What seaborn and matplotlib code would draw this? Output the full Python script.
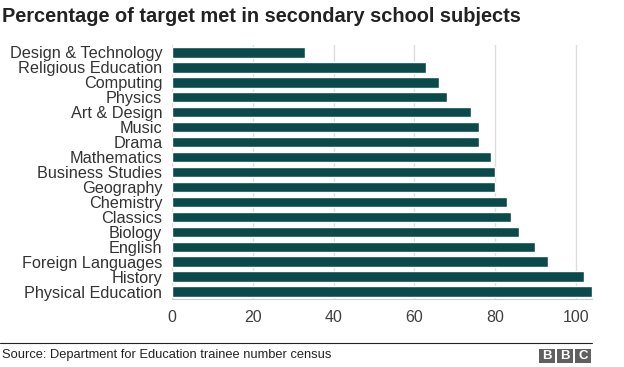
import matplotlib
matplotlib.use('Agg')
import matplotlib.pyplot as plt
from matplotlib.patches import Rectangle
import pandas as pd
import seaborn as sns

subjects = [
    'Design & Technology', 'Religious Education', 'Computing', 'Physics',
    'Art & Design', 'Music', 'Drama', 'Mathematics', 'Business Studies',
    'Geography', 'Chemistry', 'Classics', 'Biology', 'English',
    'Foreign Languages', 'History', 'Physical Education',
]
pct_met = [33, 63, 66, 68, 74, 76, 76, 79, 80, 80, 83, 84, 86, 90, 93, 102, 104]
x_ticks = [0, 20, 40, 60, 80, 100]

df = pd.DataFrame({'subject': subjects, 'pct': pct_met})

sns.set_style('white')
plt.rcParams['font.family'] = ['Liberation Sans', 'DejaVu Sans']

W, H = 624, 367
fig = plt.figure(figsize=(W / 100, H / 100), dpi=100)
ax = fig.add_axes([172 / W, 1 - 299 / H, (592 - 172) / W, (299 - 45) / H])

sns.barplot(data=df, x='pct', y='subject', orient='h', color='#0b4a4a',
            saturation=1, width=0.69, ax=ax)

ax.set_xlim(0, 104)
ax.set_xticks(x_ticks)
ax.grid(axis='x', color='#dddddd', linewidth=1)
ax.set_axisbelow(True)
for s in ['top', 'right', 'left']:
    ax.spines[s].set_visible(False)
ax.spines['bottom'].set_color('#cccccc')
ax.tick_params(axis='x', length=5, color='#cccccc', labelsize=11.5,
               labelcolor='#404040', pad=3)
ax.tick_params(axis='y', length=0, labelsize=11.7, labelcolor='#333333', pad=7)
ax.set_xlabel('')
ax.set_ylabel('')

fig.text(2 / W, 1 - 16 / H, 'Percentage of target met in secondary school subjects',
         fontsize=14.4, fontweight='bold', color='#222222', va='center', ha='left')

fig.add_artist(plt.Line2D([0, 592 / W], [1 - 343 / H, 1 - 343 / H],
                          color='#222222', linewidth=0.8))
fig.text(2 / W, 1 - 355 / H, 'Source: Department for Education trainee number census',
         fontsize=9.3, color='#222222', va='center', ha='left')
for i, letter in enumerate('BBC'):
    x0 = 539 + i * 18
    fig.add_artist(Rectangle((x0 / W, 1 - 363 / H), 16 / W, 14 / H,
                             transform=fig.transFigure, facecolor='#606060',
                             edgecolor='none'))
    fig.text((x0 + 8) / W, 1 - 356 / H, letter, fontsize=9.5,
             fontweight='bold', color='white', ha='center', va='center')

fig.savefig('out.png', dpi=100)
